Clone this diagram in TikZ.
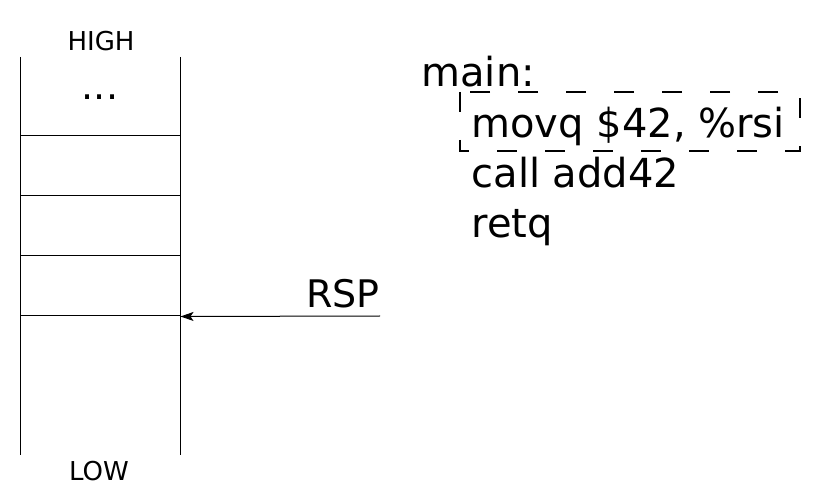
\documentclass[tikz,border=0pt]{standalone}
\usepackage{fontspec}
\setmainfont{DejaVu Sans}
\usetikzlibrary{arrows.meta}

\begin{document}
\begin{tikzpicture}[x=1pt, y=-1pt, line width=1pt,
  cell/.style={draw, minimum width=160pt, minimum height=60pt, inner sep=0pt},
  big/.style={font=\fontsize{38}{46}\selectfont, inner sep=0pt},
  code/.style={font=\fontsize{40}{48}\selectfont, inner sep=0pt, anchor=base west},
  small/.style={font=\fontsize{26}{31}\selectfont, inner sep=0pt},
  selbox/.style={line width=1.5pt, dash pattern=on 20pt off 28pt}]
\useasboundingbox (0,0) rectangle (815,497);
% stack
\coordinate (topL) at (20,57);
\coordinate (botL) at (20,455);
\coordinate (topR) at (180,57);
\coordinate (botR) at (180,455);
\draw (topL) -- (botL);
\draw (topR) -- (botR);
\node [cell] (cellA) at (100,166) {};
\node [cell] (cellB) at (100,226) {};
\node [cell] (cellC) at (100,286) {};
\node [small, anchor=base] (high) at (101,51) {HIGH};
\node [small, anchor=base] (low) at (99,480) {LOW};
\node [big, anchor=base] (dots) at (100,100) {...};
% stack pointer
\coordinate (rspEnd) at (380,316);
\node [big, anchor=base east] (rsp) at (380,308) {RSP};
\draw [-{Stealth[length=13pt, width=9pt, inset=3pt]}] (rspEnd) -- (cellC.south east);
% code
\node [code] (main) at (421,87) {main:};
\coordinate (selNW) at (460,92);
\coordinate (selSE) at (800,151);
\draw [selbox] (selNW) rectangle (selSE);
\node [code] (movq) at (471,138) {movq \$42, \%rsi};
\node [code] (call) at (471,188) {call add42};
\node [code] (retq) at (471,238) {retq};
\end{tikzpicture}
\end{document}
